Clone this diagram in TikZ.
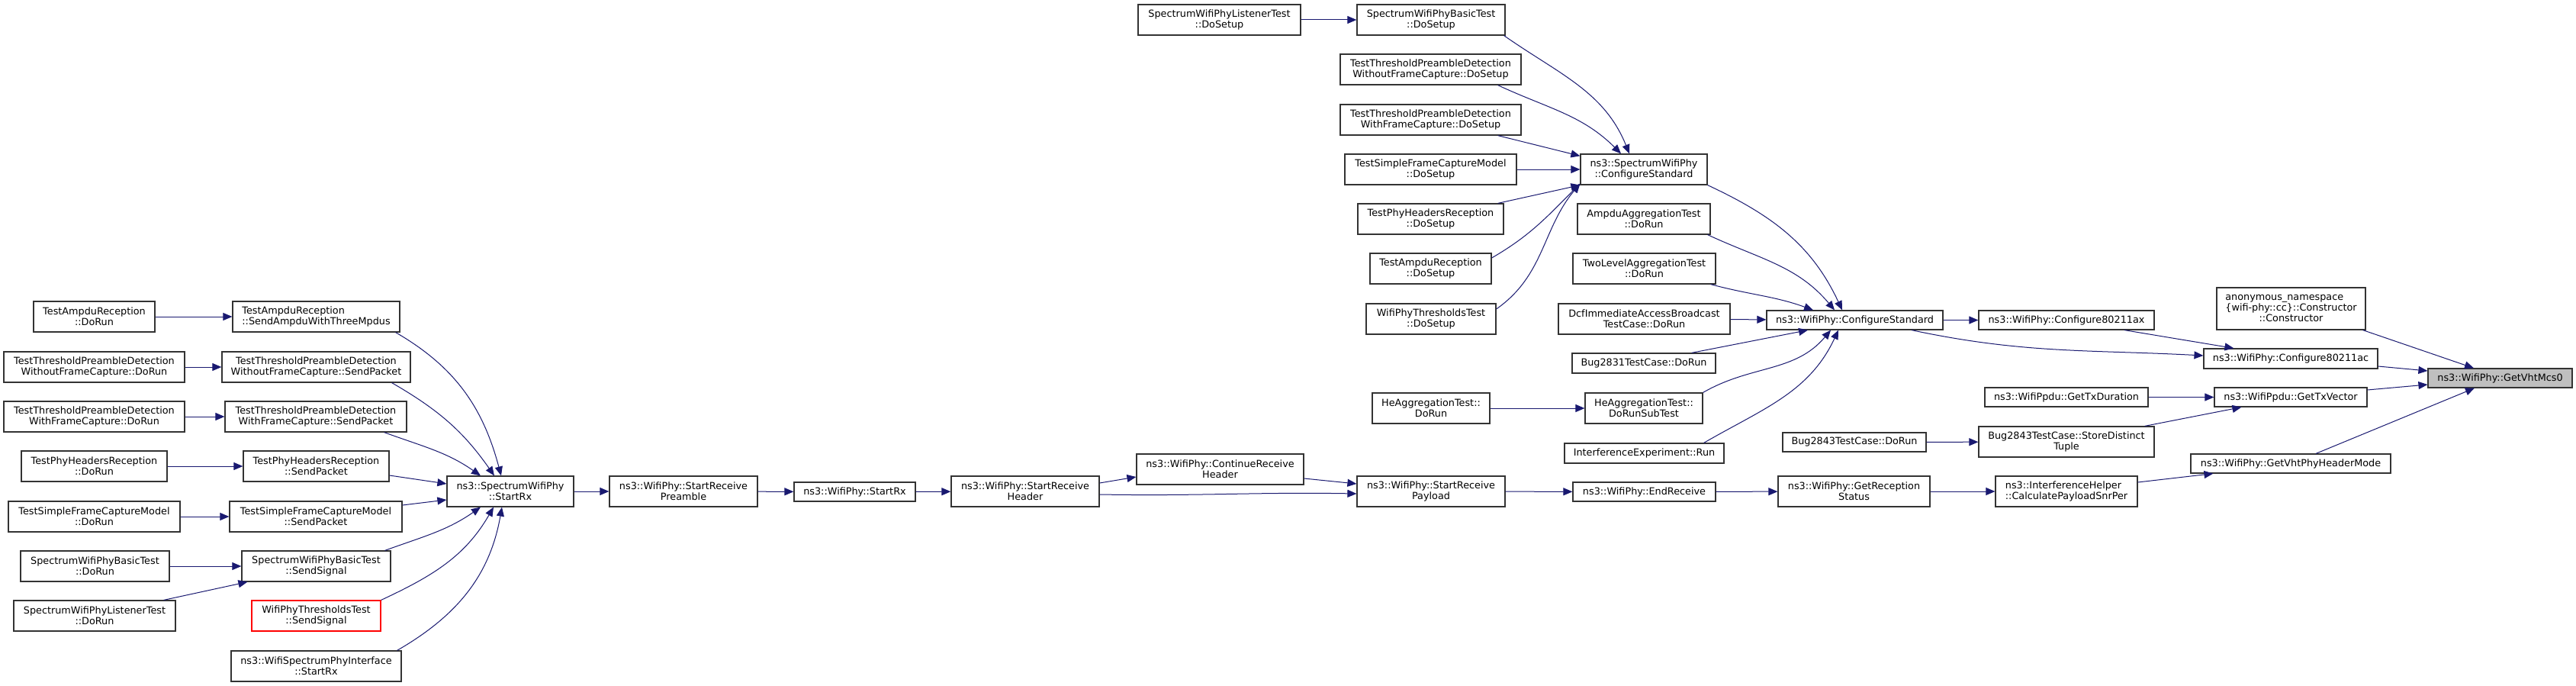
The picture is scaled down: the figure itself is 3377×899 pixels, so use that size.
\documentclass[tikz,border=0pt]{standalone}
\usepackage{fontspec}
\setmainfont{DejaVu Sans}
\usetikzlibrary{arrows.meta}
\definecolor{edgeblue}{HTML}{191970}
\definecolor{rootgrey}{HTML}{BFBFBF}

\begin{document}
\begin{tikzpicture}[x=1pt, y=1pt,
    every node/.style={font=\fontsize{12.8}{14.3}\selectfont},
    fn/.style={draw=black!80, line width=1.2pt, fill=white, align=center, inner sep=0pt,
      minimum width=#1, minimum height=40pt},
    fnone/.style={fn=#1, minimum height=25pt},
    call/.style={edgeblue, line width=1pt, -{Triangle[length=12pt,width=10pt]}}]
    \useasboundingbox (0,0) rectangle (3377,-899);

    % callers of SpectrumWifiPhy::StartRx
    \node[fn=159pt] (ampduDoRun) at (123.5,-415) {TestAmpduReception\\::DoRun};
    \node[fn=219pt, align=left] (sendAmpdu) at (414.5,-415) {TestAmpduReception\\::SendAmpduWithThreeMpdus};
    \node[fn=237pt] (woDoRun) at (123.5,-481) {TestThresholdPreambleDetection\\WithoutFrameCapture::DoRun};
    \node[fn=247pt] (woSend) at (414.5,-481) {TestThresholdPreambleDetection\\WithoutFrameCapture::SendPacket};
    \node[fn=237pt] (wDoRun) at (123.5,-546) {TestThresholdPreambleDetection\\WithFrameCapture::DoRun};
    \node[fn=238pt] (wSend) at (414,-546) {TestThresholdPreambleDetection\\WithFrameCapture::SendPacket};
    \node[fn=191pt] (phDoRun) at (123.5,-611) {TestPhyHeadersReception\\::DoRun};
    \node[fn=191pt] (phSend) at (414.5,-611) {TestPhyHeadersReception\\::SendPacket};
    \node[fn=225pt] (sfDoRun) at (123.5,-677) {TestSimpleFrameCaptureModel\\::DoRun};
    \node[fn=226pt] (sfSend) at (414,-677) {TestSimpleFrameCaptureModel\\::SendPacket};
    \node[fn=195pt] (basicDoRun) at (124.5,-742) {SpectrumWifiPhyBasicTest\\::DoRun};
    \node[fn=195pt] (basicSend) at (414.5,-742) {SpectrumWifiPhyBasicTest\\::SendSignal};
    \node[fn=212pt] (listenerDoRun) at (124,-807) {SpectrumWifiPhyListenerTest\\::DoRun};
    \node[fn=169pt, draw=red] (thrSend) at (414.5,-807) {WifiPhyThresholdsTest\\::SendSignal};
    \node[fn=223pt] (wspiStartRx) at (414.5,-873) {ns3::WifiSpectrumPhyInterface\\::StartRx};
    \node[fn=166pt] (spStartRx) at (669,-644) {ns3::SpectrumWifiPhy\\::StartRx};

    % receive chain
    \node[fn=194pt] (startRecvPreamble) at (896,-644) {ns3::WifiPhy::StartReceive\\Preamble};
    \node[fnone=159pt] (startRx) at (1120.5,-644.5) {ns3::WifiPhy::StartRx};
    \node[fn=194pt] (startRecvHeader) at (1344,-644) {ns3::WifiPhy::StartReceive\\Header};
    \node[fn=219pt] (continueRecvHeader) at (1599.5,-615) {ns3::WifiPhy::ContinueReceive\\Header};
    \node[fn=194pt] (startRecvPayload) at (1876,-644) {ns3::WifiPhy::StartReceive\\Payload};
    \node[fnone=187pt] (endReceive) at (2155.5,-644.5) {ns3::WifiPhy::EndReceive};
    \node[fn=199pt] (getRecStatus) at (2430.5,-644) {ns3::WifiPhy::GetReception\\Status};
    \node[fn=186pt, align=left] (calcPayload) at (2709,-644) {ns3::InterferenceHelper\\::CalculatePayloadSnrPer};

    % callers of SpectrumWifiPhy::ConfigureStandard
    \node[fn=213pt] (listenerSetup) at (1598.5,-26) {SpectrumWifiPhyListenerTest\\::DoSetup};
    \node[fn=194pt] (basicSetup) at (1876,-26) {SpectrumWifiPhyBasicTest\\::DoSetup};
    \node[fn=237pt] (woSetup) at (1875.5,-91) {TestThresholdPreambleDetection\\WithoutFrameCapture::DoSetup};
    \node[fn=237pt] (wSetup) at (1875.5,-157) {TestThresholdPreambleDetection\\WithFrameCapture::DoSetup};
    \node[fn=225pt] (sfSetup) at (1875.5,-222) {TestSimpleFrameCaptureModel\\::DoSetup};
    \node[fn=191pt] (phSetup) at (1875.5,-287) {TestPhyHeadersReception\\::DoSetup};
    \node[fn=159pt] (ampduSetup) at (1875.5,-352) {TestAmpduReception\\::DoSetup};
    \node[fn=170pt] (thrSetup) at (1876,-418) {WifiPhyThresholdsTest\\::DoSetup};
    \node[fn=154pt] (heAggDoRun) at (1876,-535) {HeAggregationTest::\\DoRun};

    \node[fn=166pt] (spConfStd) at (2155,-222) {ns3::SpectrumWifiPhy\\::ConfigureStandard};
    \node[fn=174pt] (ampduAggDoRun) at (2155,-287) {AmpduAggregationTest\\::DoRun};
    \node[fn=187pt] (twoLevel) at (2155.5,-352) {TwoLevelAggregationTest\\::DoRun};
    \node[fn=225pt] (dcf) at (2155.5,-418) {DcfImmediateAccessBroadcast\\TestCase::DoRun};
    \node[fn=188pt, minimum height=26pt] (bug2831) at (2155,-476) {Bug2831TestCase::DoRun};
    \node[fn=154pt] (heAggSub) at (2155,-535) {HeAggregationTest::\\DoRunSubTest};
    \node[fn=209pt, minimum height=26pt] (interfExp) at (2155.5,-594) {InterferenceExperiment::Run};

    % right part
    \node[fnone=231pt] (wConfStd) at (2431.5,-419.5) {ns3::WifiPhy::ConfigureStandard};
    \node[fnone=188pt] (bug2843DoRun) at (2431,-579.5) {Bug2843TestCase::DoRun};
    \node[fnone=230pt] (conf80211ax) at (2709,-419.5) {ns3::WifiPhy::Configure80211ax};
    \node[fnone=214pt] (getTxDuration) at (2709,-520.5) {ns3::WifiPpdu::GetTxDuration};
    \node[fn=230pt] (storeDistinct) at (2709,-579) {Bug2843TestCase::StoreDistinct\\Tuple};
    \node[fn=195pt, minimum height=55pt] (anon) at (3003.5,-404.5)
      {\begin{tabular}{@{}l@{}}anonymous\_namespace\\\{wifi-phy::cc\}::Constructor\\\multicolumn{1}{@{}c@{}}{::Constructor}\end{tabular}};
    \node[fn=228pt, minimum height=26pt] (conf80211ac) at (3003,-470) {ns3::WifiPhy::Configure80211ac};
    \node[fnone=200pt] (getTxVector) at (3003,-520.5) {ns3::WifiPpdu::GetTxVector};
    \node[fnone=262pt] (getVhtPhyHdr) at (3003,-607.5) {ns3::WifiPhy::GetVhtPhyHeaderMode};
    \node[fnone=189pt, fill=rootgrey] (getVhtMcs0) at (3277.5,-495.5) {ns3::WifiPhy::GetVhtMcs0};

    % edges, left
    \draw[call] (ampduDoRun) -- (sendAmpdu);
    \draw[call] (woDoRun) -- (woSend);
    \draw[call] (wDoRun) -- (wSend);
    \draw[call] (phDoRun) -- (phSend);
    \draw[call] (sfDoRun) -- (sfSend);
    \draw[call] (basicDoRun) -- (basicSend);
    \draw[call] ([xshift=-16pt]listenerDoRun.north east) -- ([xshift=8pt]basicSend.south west);
    \draw[call] ([xshift=-6pt]sendAmpdu.south east) to[out=-30,in=105] ([xshift=-12pt]spStartRx.north);
    \draw[call] ([xshift=-25pt]woSend.south east) to[out=-30,in=125] ([xshift=-21pt]spStartRx.north);
    \draw[call] ([xshift=-30pt]wSend.south east) to[out=-20,in=145] ([xshift=-39pt]spStartRx.north);
    \draw[call] ([yshift=-12pt]phSend.east) -- ([yshift=10pt]spStartRx.west);
    \draw[call] ([yshift=15pt]sfSend.east) -- ([yshift=-11pt]spStartRx.west);
    \draw[call] ([xshift=-8pt]basicSend.north east) to[out=20,in=-145] ([xshift=-39pt]spStartRx.south);
    \draw[call] (thrSend.north east) to[out=25,in=-120] ([xshift=-22pt]spStartRx.south);
    \draw[call] ([xshift=-6pt]wspiStartRx.north east) to[out=30,in=-100] ([xshift=-11pt]spStartRx.south);

    % edges, receive chain
    \draw[call] (spStartRx) -- (startRecvPreamble);
    \draw[call] (startRecvPreamble) -- (startRx);
    \draw[call] (startRx) -- (startRecvHeader);
    \draw[call] ([yshift=11pt]startRecvHeader.east) -- ([yshift=-10pt]continueRecvHeader.west);
    \draw[call] ([yshift=-4pt]startRecvHeader.east) to[out=-1,in=179] ([yshift=-3pt]startRecvPayload.west);
    \draw[call] ([yshift=-12pt]continueRecvHeader.east) -- ([yshift=10pt]startRecvPayload.west);
    \draw[call] (startRecvPayload) -- (endReceive);
    \draw[call] (endReceive) -- (getRecStatus);
    \draw[call] (getRecStatus) -- (calcPayload);
    \draw[call] ([yshift=12pt]calcPayload.east) -- ([xshift=30pt]getVhtPhyHdr.south west);
    \draw[call] ([xshift=33pt]getVhtPhyHdr.north) -- ([xshift=-33.5pt]getVhtMcs0.south);

    % edges, top
    \draw[call] (listenerSetup) -- (basicSetup);
    \draw[call] ([xshift=-2pt]basicSetup.south east) to[out=-35,in=112] ([xshift=-19pt]spConfStd.north);
    \draw[call] ([xshift=-31pt]woSetup.south east) to[out=-25,in=135] ([xshift=-30pt]spConfStd.north);
    \draw[call] ([xshift=-31pt]wSetup.south east) -- ([yshift=-3pt]spConfStd.north west);
    \draw[call] (sfSetup) -- (spConfStd);
    \draw[call] ([xshift=-8pt]phSetup.north east) -- (spConfStd.south west);
    \draw[call] ([yshift=14pt]ampduSetup.east) to[out=30,in=-135] ([yshift=2pt]spConfStd.south west);
    \draw[call] ([yshift=13pt]thrSetup.east) to[out=35,in=-130] ([yshift=2pt]spConfStd.south west);

    % edges into WifiPhy::ConfigureStandard
    \draw[call] (spConfStd.south east) to[out=-25,in=115] ([xshift=-16.5pt]wConfStd.north);
    \draw[call] ([xshift=-4pt]ampduAggDoRun.south east) to[out=-25,in=130] ([xshift=-26.5pt]wConfStd.north);
    \draw[call] ([xshift=-7pt]twoLevel.south east) to[out=-15,in=160] ([xshift=-54.5pt]wConfStd.north);
    \draw[call] (dcf) -- (wConfStd);
    \draw[call] ([xshift=-32pt]bug2831.north east) -- ([xshift=-61.5pt]wConfStd.south);
    \draw[call] (heAggSub.north east) to[out=30,in=-130] ([xshift=-31.5pt]wConfStd.south);
    \draw[call] ([xshift=-27pt]interfExp.north east) to[out=30,in=-115] ([xshift=-21.5pt]wConfStd.south);
    \draw[call] (heAggDoRun) -- (heAggSub);

    % edges, right
    \draw[call] (wConfStd) -- (conf80211ax);
    \draw[call] ([xshift=74.5pt]wConfStd.south) to[out=-12,in=177] ([yshift=4pt]conf80211ac.west);
    \draw[call] ([xshift=76pt]conf80211ax.south) -- ([xshift=40pt]conf80211ac.north west);
    \draw[call] (bug2843DoRun) -- (storeDistinct);
    \draw[call] ([xshift=-13pt]storeDistinct.north east) -- ([xshift=36pt]getTxVector.south west);
    \draw[call] (getTxDuration) -- (getTxVector);
    \draw[call] ([yshift=9.5pt]getTxVector.east) -- ([yshift=-8.5pt]getVhtMcs0.west);
    \draw[call] ([yshift=-10pt]conf80211ac.east) -- ([yshift=9.5pt]getVhtMcs0.west);
    \draw[call] ([xshift=-4pt]anon.south east) -- ([xshift=-34.5pt]getVhtMcs0.north);
  \end{tikzpicture}
\end{document}
